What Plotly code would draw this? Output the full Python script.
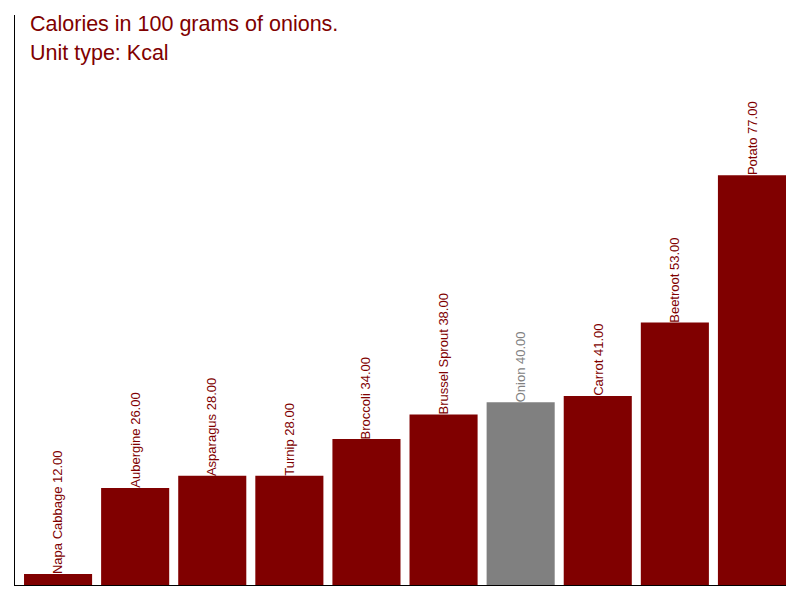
import plotly.graph_objects as go

# Calories per 100 g
vegetables = ["Napa Cabbage", "Aubergine", "Asparagus", "Turnip", "Broccoli",
              "Brussel Sprout", "Onion", "Carrot", "Beetroot", "Potato"]
calories = [12, 26, 28, 28, 34, 38, 40, 41, 53, 77]

MAROON = "#800000"
GREY = "#808080"
highlight = "Onion"
FONT = "Liberation Sans, Arial"

colors = [GREY if v == highlight else MAROON for v in vegetables]

# bars sit at the right side of each band (gap only on the left)
bar_w = 0.883
bar_off = 0.5 - bar_w

fig = go.Figure()
fig.add_trace(go.Bar(
    x=vegetables, y=calories,
    width=bar_w, offset=bar_off,
    marker=dict(color=colors, line=dict(width=0)),
    hoverinfo="x+y",
))

# vertical labels sitting on top of each bar
for i, (name, val, col) in enumerate(zip(vegetables, calories, colors)):
    fig.add_annotation(
        x=i + bar_off + bar_w / 2, y=val, text="%s %.2f" % (name, val),
        textangle=-90, xanchor="center", yanchor="bottom",
        showarrow=False, borderpad=0, yshift=-1,
        font=dict(family=FONT, size=13, color=col),
    )

fig.add_annotation(xref="paper", yref="paper", x=0.0174, y=0.985,
                   xanchor="left", yanchor="middle", showarrow=False,
                   text="Calories in 100 grams of onions.",
                   font=dict(family=FONT, size=21.5, color=MAROON))
fig.add_annotation(xref="paper", yref="paper", x=0.0174, y=0.934,
                   xanchor="left", yanchor="middle", showarrow=False,
                   text="Unit type: Kcal",
                   font=dict(family=FONT, size=21.5, color=MAROON))

# page body has an 8px margin, so the figure is a bit smaller than the window
fig.update_layout(
    width=792, height=592,
    margin=dict(l=7, r=14, t=7, b=15),
    paper_bgcolor="white", plot_bgcolor="white",
    showlegend=False,
    font=dict(family=FONT),
)
fig.update_xaxes(range=[-0.5, len(vegetables) - 0.5],
                 showticklabels=False, showgrid=False, ticks="",
                 showline=True, linecolor="black", linewidth=1)
fig.update_yaxes(range=[10.2, 103.1], showticklabels=False, showgrid=False,
                 zeroline=False, ticks="",
                 showline=True, linecolor="black", linewidth=1)

fig.write_html("out.html")
